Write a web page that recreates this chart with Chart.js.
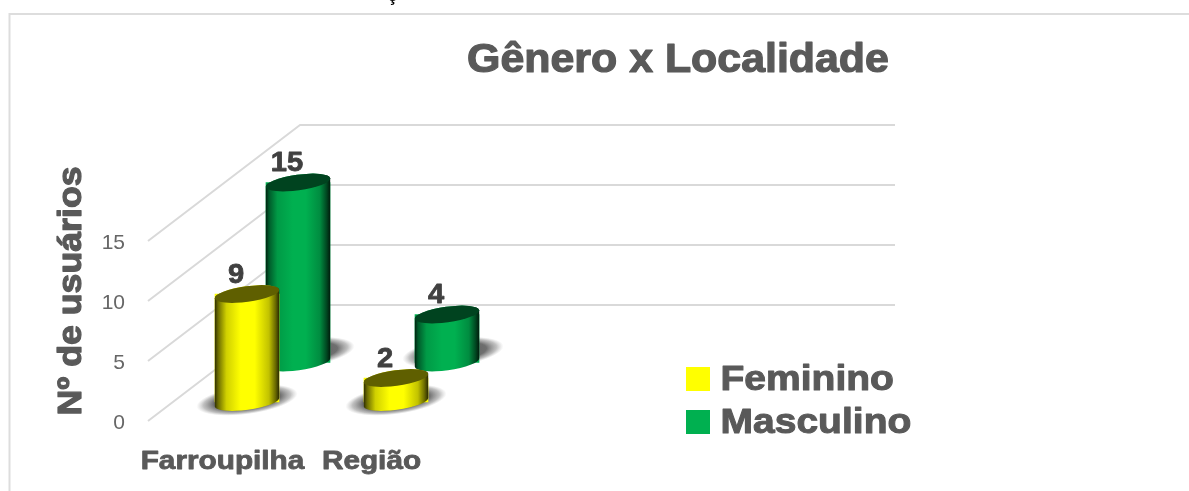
<!DOCTYPE html>
<html lang="pt">
<head>
<meta charset="utf-8">
<title>Gênero x Localidade</title>
<style>html,body{margin:0;padding:0;background:#fff}canvas{display:block}</style>
<script src="https://cdn.jsdelivr.net/npm/chart.js@4"></script>
</head>
<body>
<canvas id="c" width="1189" height="491"></canvas>
<script>
const categories = ["Farroupilha", "Região", "", ""];
const feminino = [9, 2];
const masculino = [15, 4];
const yTickValues = [0, 5, 10, 15];
const chartTitle = "Gênero x Localidade";
const yTitle = "Nº de usuários";
const seriesNames = ["Feminino", "Masculino"];
const seriesColors = ["#FFFF00", "#00B050"];

const GREY = "#595959";
const SANS = "'Liberation Sans'";
const TILT = -0.135, RX = 32.5, RY = 7.8;
const looks = [
  {shift: 24.5, top: "#5f5f00", shDx: 0, shDy: -2,
   stops: [[0,"#2e2e00"],[.05,"#6a6a00"],[.18,"#d0d000"],[.4,"#ffff00"],[.62,"#ffff00"],[.84,"#c2c200"],[.94,"#6c6c00"],[1,"#2a2a00"]]},
  {shift: 75.5, top: "#00431f", shDx: 6, shDy: -10,
   stops: [[0,"#00220f"],[.05,"#005a2a"],[.18,"#009a46"],[.42,"#00B050"],[.62,"#00B050"],[.84,"#008c40"],[.94,"#004a22"],[1,"#001c0c"]]}
];

// heavy, slightly widened lettering of the reference
function wideText(ctx, text, x, y, k, weight) {
  ctx.save();
  ctx.translate(x, y);
  ctx.scale(k, 1);
  ctx.strokeStyle = ctx.fillStyle;
  ctx.lineWidth = weight;
  ctx.lineJoin = "round";
  ctx.strokeText(text, 0, 0);
  ctx.fillText(text, 0, 0);
  ctx.restore();
}

function widened(obj, method, ctx, k, weight, dy) {
  const orig = obj[method].bind(obj);
  obj[method] = function (a) {
    const fill = CanvasRenderingContext2D.prototype.fillText;
    ctx.save();
    if (dy) ctx.translate(0, dy);
    ctx.fillText = function (text, x, y) {
      ctx.fillText = fill;
      wideText(ctx, text, x, y, k, weight);
      ctx.fillText = self;
    };
    const self = ctx.fillText;
    orig(a);
    delete ctx.fillText;
    ctx.restore();
  };
}

const cylinders = {
  id: "cylinders",
  afterLayout(chart) {
    const t = chart.titleBlock, ctx = chart.ctx;
    t.left = 167; t.right = 1189;
    if (!chart._widened) {
      widened(t, "draw", ctx, 1.072, 1.2, 0);
      widened(chart.scales.y, "drawTitle", ctx, 1.05, 1.2, 18);
      widened(chart.scales.x, "drawLabels", ctx, 1.19, 0.8, 0);
      chart._widened = true;
    }
  },
  beforeDraw(chart) {
    const ctx = chart.ctx, s = chart.scales;
    ctx.save();
    ctx.lineCap = "butt";
    // outer frame
    ctx.strokeStyle = "#DDDDDD"; ctx.lineWidth = 2;
    ctx.beginPath(); ctx.moveTo(9.5, 491); ctx.lineTo(9.5, 14); ctx.lineTo(1189, 14); ctx.stroke();
    // clipped character above the frame
    ctx.fillStyle = "#000"; ctx.font = "bold 18px 'Liberation Sans'";
    ctx.textAlign = "center"; ctx.textBaseline = "alphabetic";
    ctx.fillText("ç", 392.5, 1);
    // 3D walls
    const fx = chart.chartArea.left, bx = fx + 152, ex = bx + 595;
    ctx.strokeStyle = "#D9D9D9"; ctx.lineWidth = 2; ctx.lineJoin = "round";
    yTickValues.forEach(v => {
      const fy = s.y.getPixelForValue(v), by = s.yBack.getPixelForValue(v);
      ctx.beginPath(); ctx.moveTo(fx, fy); ctx.lineTo(bx, by); ctx.lineTo(ex, by); ctx.stroke();
    });
    // legend
    ctx.textAlign = "left"; ctx.textBaseline = "middle";
    ctx.font = "bold 35px " + SANS;
    seriesNames.forEach((n, i) => {
      const cy = 379 + i * 43;
      ctx.fillStyle = seriesColors[i];
      ctx.fillRect(686, cy - 12, 24, 24);
      ctx.fillStyle = GREY;
      wideText(ctx, n, 720.5, cy + 1, 1.115, 1);
    });
    ctx.restore();
  },
  beforeDatasetDraw(chart, args) {
    const ctx = chart.ctx, lk = looks[args.index];
    args.meta.data.forEach(el => {
      const cx = el.x + lk.shift + lk.shDx, cy = el.base + lk.shDy;
      ctx.save();
      ctx.translate(cx, cy); ctx.rotate(TILT); ctx.scale(1, 14 / 50);
      const g = ctx.createRadialGradient(0, 0, 0, 0, 0, 51);
      g.addColorStop(0, "rgba(80,80,80,.95)");
      g.addColorStop(.66, "rgba(95,95,95,.9)");
      g.addColorStop(.86, "rgba(130,130,130,.5)");
      g.addColorStop(1, "rgba(170,170,170,0)");
      ctx.fillStyle = g;
      ctx.beginPath(); ctx.arc(0, 0, 51, 0, Math.PI * 2); ctx.fill();
      ctx.restore();
    });
    ctx.save();
    ctx.translate(lk.shift, 0);
  },
  afterDatasetDraw(chart, args) {
    const ctx = chart.ctx, lk = looks[args.index];
    ctx.restore();
    args.meta.data.forEach(el => {
      const cx = el.x + lk.shift, top = el.y, base = el.base;
      const dx = RX * Math.cos(TILT), dy = RX * Math.sin(TILT);
      const g = ctx.createLinearGradient(cx - dx, 0, cx + dx, 0);
      lk.stops.forEach(st => g.addColorStop(st[0], st[1]));
      ctx.save();
      ctx.fillStyle = g;
      ctx.beginPath();
      ctx.moveTo(cx - dx, top - dy);
      ctx.lineTo(cx - dx, base - dy);
      ctx.ellipse(cx, base, RX, RY, TILT, Math.PI, 0, true);
      ctx.lineTo(cx + dx, top + dy);
      ctx.ellipse(cx, top, RX, RY, TILT, 0, Math.PI, true);
      ctx.closePath(); ctx.fill();
      ctx.fillStyle = lk.top;
      ctx.beginPath(); ctx.ellipse(cx, top, RX, RY, TILT, 0, Math.PI * 2); ctx.fill();
      ctx.restore();
    });
  },
  afterDatasetsDraw(chart) {
    const ctx = chart.ctx;
    ctx.save();
    ctx.fillStyle = "#404040";
    ctx.font = "bold 28px " + SANS;
    ctx.textAlign = "center"; ctx.textBaseline = "middle";
    chart.data.datasets.forEach((ds, i) => {
      chart.getDatasetMeta(i).data.forEach((el, j) => {
        wideText(ctx, String(ds.data[j]), el.x + looks[i].shift - 11, el.y - 19, 1.04, 0.8);
      });
    });
    ctx.restore();
  }
};

new Chart(document.getElementById("c"), {
  type: "bar",
  data: {
    labels: categories,
    datasets: [
      {label: seriesNames[0], data: feminino, yAxisID: "yF", backgroundColor: seriesColors[0], borderWidth: 0, barThickness: 64, grouped: false},
      {label: seriesNames[1], data: masculino, yAxisID: "yM", backgroundColor: seriesColors[1], borderWidth: 0, barThickness: 64, grouped: false}
    ]
  },
  options: {
    responsive: false,
    animation: false,
    events: [],
    layout: {padding: {left: 0, top: 0, right: 445, bottom: 0}},
    plugins: {
      legend: {display: false},
      tooltip: {enabled: false},
      title: {
        display: true, text: chartTitle, color: GREY,
        font: {family: SANS, size: 40, weight: "bold", lineHeight: 1.2},
        padding: {top: 37, bottom: 40}
      }
    },
    scales: {
      x: {
        grid: {display: false}, border: {display: false},
        afterFit(s) { s.height = 70; },
        ticks: {
          color: GREY, autoSkip: false, maxRotation: 0, minRotation: 0, padding: 18,
          font: {family: SANS, size: 25, weight: "bold"}
        }
      },
      y: {
        min: 0, max: 24.667,
        grid: {display: false}, border: {display: false},
        afterFit(s) { s.width = 148; },
        afterBuildTicks(s) { s.ticks = yTickValues.map(v => ({value: v})); },
        ticks: {color: "#666666", padding: 15, labelOffset: 2, font: {family: SANS, size: 21}},
        title: {
          display: true, text: yTitle, color: GREY,
          font: {family: SANS, size: 34, weight: "bold", lineHeight: 1.2},
          padding: {top: 51.6, bottom: 0}
        }
      },
      yBack: {display: false, min: -9.667, max: 15},
      yF: {display: false, min: -1.583, max: 23.083},
      yM: {display: false, min: -4.875, max: 19.792}
    }
  },
  plugins: [cylinders]
});
</script>
</body>
</html>
